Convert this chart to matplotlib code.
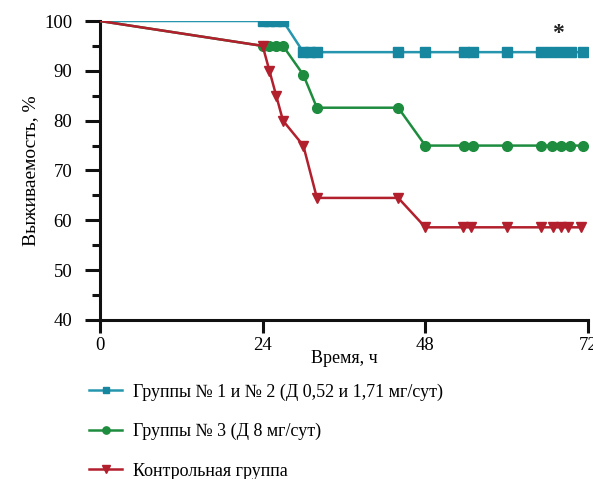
import matplotlib
matplotlib.use("Agg")
import matplotlib.pyplot as plt
from matplotlib.ticker import MultipleLocator

plt.rcParams['font.family'] = ['Liberation Serif', 'DejaVu Serif']

# Data
t_blue = [0, 24, 25, 26, 27, 30, 31, 32, 44, 48, 53.7, 55, 60, 65, 66.5, 68, 69.5, 71.2]
s_blue = [100, 100, 100, 100, 100, 93.75, 93.75, 93.75, 93.75, 93.75, 93.75, 93.75,
          93.75, 93.75, 93.75, 93.75, 93.75, 93.75]

t_green = [0, 24, 25, 26, 27, 30, 32, 44, 48, 53.7, 55, 60, 65, 66.7, 68, 69.3, 71.2]
s_green = [100, 95, 95, 95, 95, 89.2, 82.6, 82.6, 75, 75, 75, 75, 75, 75, 75, 75, 75]

t_red = [0, 24, 25, 26, 27, 30, 32, 44, 48, 53.5, 54.7, 60, 65, 66.8, 68, 69, 71]
s_red = [100, 95, 90, 85, 80, 75, 64.5, 64.5, 58.6, 58.6, 58.6, 58.6, 58.6, 58.6,
         58.6, 58.6, 58.6]

labels = ["Группы № 1 и № 2 (Д 0,52 и 1,71 мг/сут)",
          "Группы № 3 (Д 8 мг/сут)",
          "Контрольная группа"]
x_ticks = [0, 24, 48, 72]
y_ticks = [40, 50, 60, 70, 80, 90, 100]

c_blue = "#2596ad"
c_blue_m = "#17879f"
c_green = "#1e8c3e"
c_red = "#b21f2d"

fig = plt.figure(figsize=(5.93, 4.79), dpi=100)
ax = fig.add_axes([100/593, 1-320/479, 488/593, 299/479])

ax.plot(t_blue, s_blue, color=c_blue, lw=1.8, marker='s', ms=6.5,
        mfc=c_blue_m, mec=c_blue_m, markevery=list(range(1, len(t_blue))),
        label=labels[0], zorder=3)
ax.plot(t_green, s_green, color=c_green, lw=1.8, marker='o', ms=7,
        mfc=c_green, mec=c_green, markevery=list(range(1, len(t_green))),
        label=labels[1], zorder=3)
ax.plot(t_red, s_red, color=c_red, lw=1.8, marker='v', ms=7,
        mfc=c_red, mec=c_red, markevery=list(range(1, len(t_red))),
        label=labels[2], zorder=4)

ax.text(67.5, 97.4, "*", ha='center', va='center', fontsize=17,
        fontweight='bold', color='#222222')

ax.set_xlim(0, 72)
ax.set_ylim(40, 100)
ax.set_xticks(x_ticks)
ax.set_yticks(y_ticks)
ax.yaxis.set_minor_locator(MultipleLocator(5))
for s in ['top', 'right']:
    ax.spines[s].set_visible(False)
for s in ['left', 'bottom']:
    ax.spines[s].set_linewidth(2.2)
    ax.spines[s].set_color('#111111')
ax.tick_params(axis='y', which='major', length=11, width=2.2, labelsize=13.5,
               color='#111111', pad=9)
ax.tick_params(axis='y', which='minor', length=6, width=2.2, color='#111111')
ax.tick_params(axis='x', which='major', length=9, width=2.2, labelsize=13.5,
               color='#111111', pad=3)
ax.set_xlabel("Время, ч", fontsize=13, labelpad=-2.5)
ax.set_ylabel("Выживаемость, %", fontsize=14, labelpad=3.5)
for lbl in ax.get_xticklabels() + ax.get_yticklabels():
    lbl.set_clip_on(False)

handles, labs = ax.get_legend_handles_labels()
fig.legend(handles, labs, loc='upper left', bbox_to_anchor=(73/593, 1-367/479),
           frameon=False, fontsize=13, handlelength=1.8, handletextpad=0.65,
           labelspacing=1.24, markerscale=0.75)

fig.savefig("out.png", dpi=100)
